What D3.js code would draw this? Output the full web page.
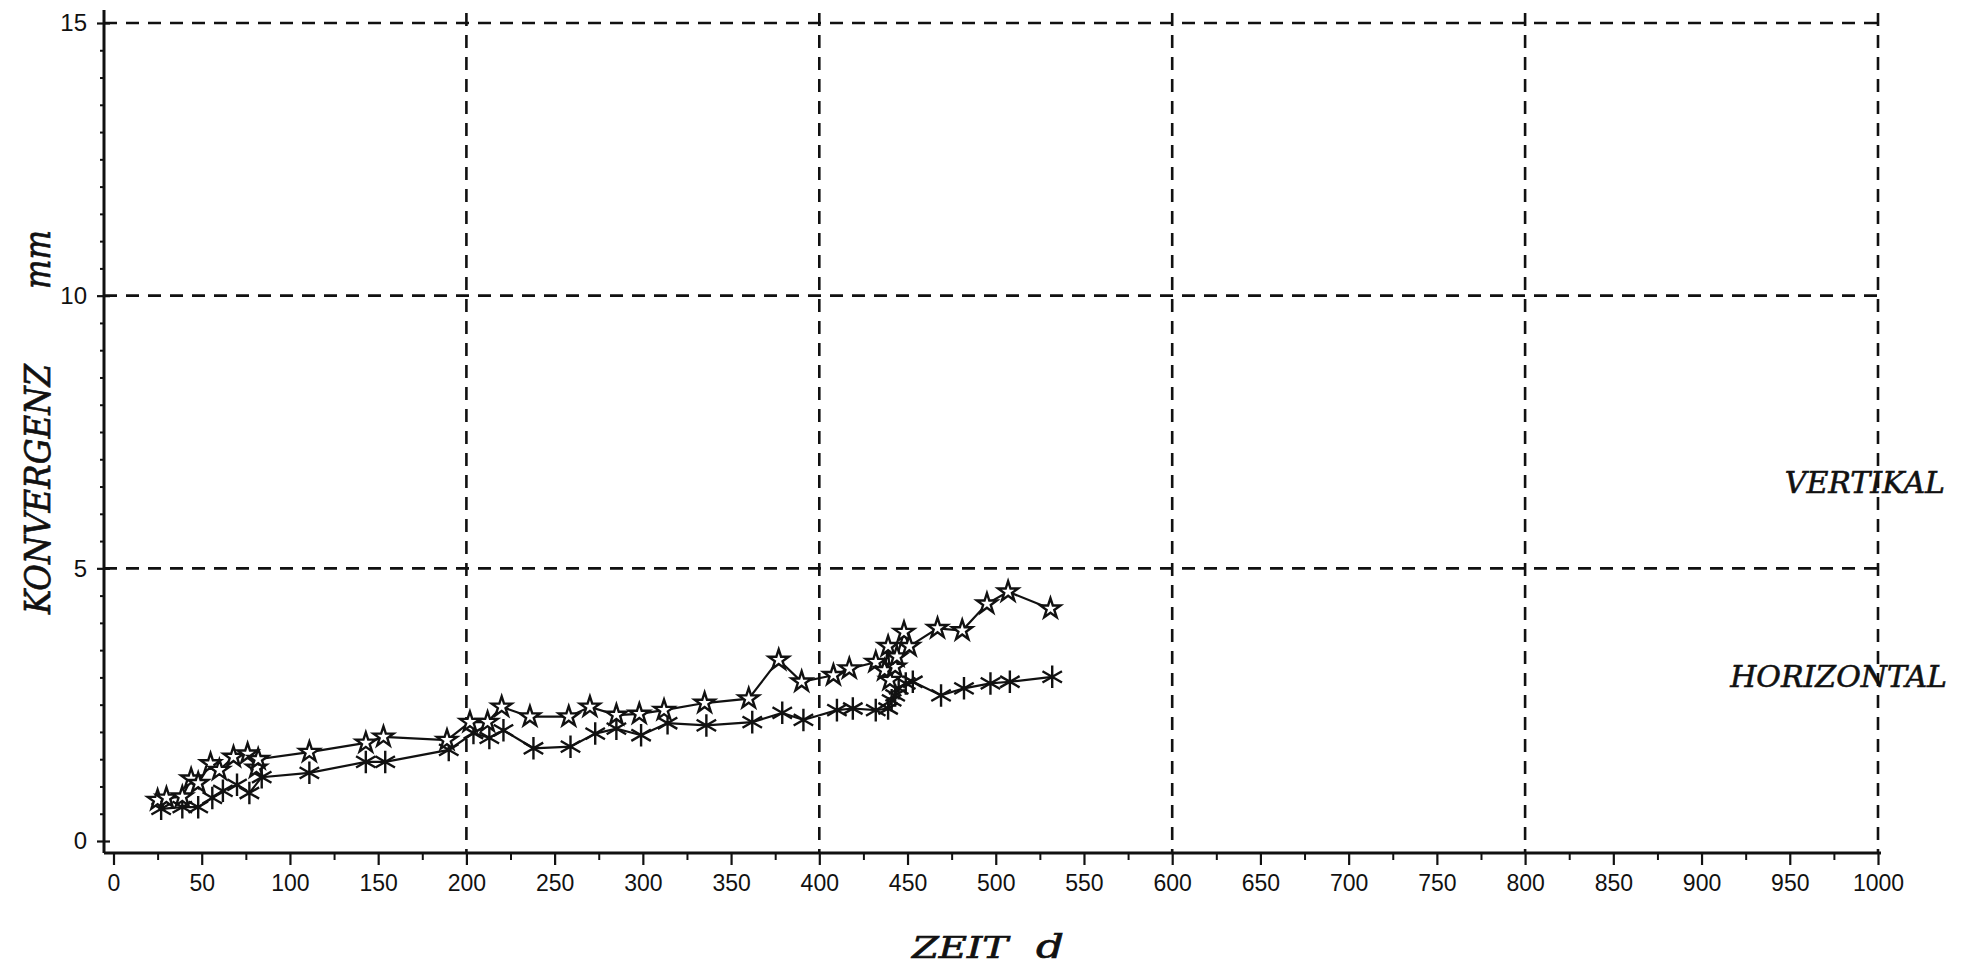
<!DOCTYPE html>
<html>
<head>
<meta charset="utf-8">
<script src="https://cdn.jsdelivr.net/npm/d3@7"></script>
<style>
  html, body { margin: 0; padding: 0; background: #fff; }
  svg { display: block; }
</style>
</head>
<body>
<svg id="chart" width="1969" height="968"></svg>
<script>
// ---------------- DATA ----------------
const xTickValues = [0,50,100,150,200,250,300,350,400,450,500,550,600,650,700,750,800,850,900,950,1000];
const yTickValues = [0,5,10,15];
const xGridValues = [200,400,600,800,1000];
const yGridValues = [5,10,15];

// VERTIKAL (stars)
const vertDays = [25,30,39,44,48,55,60,68,76,81,82,111,143,153,189,202,212,220,236,258,270,285,298,312,335,360,377,390,408,417,432,437,439,440,443,444,448,451,467,481,495,507,531];
const vertVals = [0.75,0.79,0.81,1.14,1.06,1.42,1.30,1.54,1.60,1.34,1.50,1.63,1.80,1.91,1.85,2.18,2.18,2.46,2.28,2.28,2.46,2.31,2.33,2.40,2.53,2.61,3.32,2.92,3.04,3.16,3.28,3.13,3.57,2.95,3.19,3.38,3.83,3.57,3.90,3.86,4.35,4.57,4.26];

// HORIZONTAL (asterisks)
const horizDays = [27,39,48,56,62,70,77,84,111,143,154,190,204,213,221,238,259,273,285,299,314,336,362,379,391,410,419,432,439,441,443,445,449,453,469,482,497,508,532];
const horizVals = [0.59,0.62,0.62,0.79,0.92,1.03,0.88,1.17,1.25,1.45,1.45,1.67,1.98,1.89,2.03,1.70,1.73,1.97,2.06,1.94,2.16,2.12,2.18,2.35,2.22,2.40,2.43,2.40,2.43,2.58,2.67,2.80,2.89,2.92,2.67,2.80,2.89,2.92,3.01];

const seriesLabels = ["VERTIKAL","HORIZONTAL"];
const xTitle = ["ZEIT","d"];
const yTitle = ["KONVERGENZ","mm"];

// ---------------- CHART ----------------
const svg = d3.select("#chart");
const x = d3.scaleLinear().domain([0,1000]).range([113.5,1878]);
const y = d3.scaleLinear().domain([0,15]).range([841,23]);

const axisX0 = 104;   // position of vertical axis line
const axisY0 = 853;   // position of horizontal axis line
const ink = "#111";

// grid
const grid = svg.append("g").attr("stroke", ink).attr("stroke-width", 2.6)
  .attr("stroke-dasharray", "13,9").attr("fill","none");
grid.selectAll("line.h").data(yGridValues).join("line").attr("class","h")
  .attr("x1", axisX0).attr("x2", x(1000))
  .attr("y1", d => y(d)).attr("y2", d => y(d));
grid.selectAll("line.v").data(xGridValues).join("line").attr("class","v")
  .attr("x1", d => x(d)).attr("x2", d => x(d))
  .attr("y1", y(15) - 10).attr("y2", axisY0);

// axis lines
svg.append("line").attr("x1", axisX0).attr("x2", axisX0).attr("y1", 10).attr("y2", axisY0)
  .attr("stroke", ink).attr("stroke-width", 3);
svg.append("line").attr("x1", axisX0).attr("x2", x(1000) + 3).attr("y1", axisY0).attr("y2", axisY0)
  .attr("stroke", ink).attr("stroke-width", 3);

// x axis major ticks with labels
const xAxis = d3.axisBottom(x).tickValues(xTickValues).tickSize(12).tickPadding(10)
  .tickFormat(d3.format("d"));
const gx = svg.append("g").attr("transform", `translate(0,${axisY0})`).call(xAxis);
gx.select(".domain").remove();
gx.selectAll(".tick line").attr("stroke", ink).attr("stroke-width", 2.2);
gx.selectAll(".tick text").attr("fill", ink)
  .style("font-family", "'Liberation Sans', Arial, sans-serif").style("font-size", "23px");

// x axis minor ticks
const xMinor = d3.range(25, 1000, 50);
const gxm = svg.append("g").attr("transform", `translate(0,${axisY0})`)
  .call(d3.axisBottom(x).tickValues(xMinor).tickSize(7).tickFormat(""));
gxm.select(".domain").remove();
gxm.selectAll(".tick line").attr("stroke", ink).attr("stroke-width", 2);

// y axis major ticks (crossing)
const yAxis = d3.axisLeft(y).tickValues(yTickValues).tickSize(7).tickPadding(10)
  .tickFormat(d3.format("d"));
const gy = svg.append("g").attr("transform", `translate(${axisX0},0)`).call(yAxis);
gy.select(".domain").remove();
gy.selectAll(".tick line").attr("x1", 6).attr("stroke", ink).attr("stroke-width", 2.2);
gy.selectAll(".tick text").attr("fill", ink)
  .style("font-family", "'Liberation Sans', Arial, sans-serif").style("font-size", "24px");

// y axis minor ticks
const yMinor = d3.range(0.5, 15, 0.5).filter(v => v % 5 !== 0);
const gym = svg.append("g").attr("transform", `translate(${axisX0},0)`)
  .call(d3.axisLeft(y).tickValues(yMinor).tickSize(4).tickFormat(""));
gym.select(".domain").remove();
gym.selectAll(".tick line").attr("stroke", ink).attr("stroke-width", 2);

// series data
const vert = vertDays.map((d,i) => ({day:d, val:vertVals[i]}));
const horiz = horizDays.map((d,i) => ({day:d, val:horizVals[i]}));
const line = d3.line().x(d => x(d.day)).y(d => y(d.val));

svg.append("path").datum(horiz).attr("d", line).attr("fill","none")
  .attr("stroke", ink).attr("stroke-width", 2.2);
svg.append("path").datum(vert).attr("d", line).attr("fill","none")
  .attr("stroke", ink).attr("stroke-width", 2.2);

// asterisk symbol type (vertical + two 30° strokes)
const asteriskType = {
  draw(ctx, size) {
    const r = Math.sqrt(size) * 0.62;
    const t = r / 2, u = t * Math.sqrt(3);
    ctx.moveTo(0, r); ctx.lineTo(0, -r);
    ctx.moveTo(-u, -t); ctx.lineTo(u, t);
    ctx.moveTo(-u, t); ctx.lineTo(u, -t);
  }
};
svg.append("g").selectAll("path").data(horiz).join("path")
  .attr("transform", d => `translate(${x(d.day)},${y(d.val)})`)
  .attr("d", d3.symbol().type(asteriskType).size(330))
  .attr("fill","none").attr("stroke", ink).attr("stroke-width", 2.4);

svg.append("g").selectAll("path").data(vert).join("path")
  .attr("transform", d => `translate(${x(d.day)},${y(d.val)})`)
  .attr("d", d3.symbol().type(d3.symbolStar).size(125))
  .attr("fill","#fff").attr("stroke", ink).attr("stroke-width", 2.4).attr("stroke-linejoin","miter");

// titles
const serif = "'DejaVu Serif', 'Liberation Serif', serif";
const yt = svg.append("g").attr("transform", "translate(50,0) rotate(-90)")
  .style("font-family", serif).style("font-style","italic").attr("fill", ink)
  .attr("stroke", ink).attr("stroke-width", 0.7);
yt.append("text").attr("x", -614).attr("y", 0).style("font-size","36px")
  .attr("textLength", 250).attr("lengthAdjust","spacingAndGlyphs").text(yTitle[0]);
yt.append("text").attr("x", -289).attr("y", 0).style("font-size","38px")
  .attr("textLength", 59).attr("lengthAdjust","spacingAndGlyphs").text(yTitle[1]);

const xt = svg.append("g").style("font-family", serif).style("font-style","italic")
  .attr("fill", ink).attr("stroke", ink).attr("stroke-width", 0.7);
xt.append("text").attr("x", 912).attr("y", 958).style("font-size","30px")
  .attr("textLength", 96).attr("lengthAdjust","spacingAndGlyphs").text(xTitle[0]);
xt.append("text").attr("x", 1036).attr("y", 958).style("font-size","34px")
  .attr("textLength", 28).attr("lengthAdjust","spacingAndGlyphs").text(xTitle[1]);

const lt = svg.append("g").style("font-family", serif).style("font-style","italic")
  .style("font-size","30px").attr("fill", ink).attr("stroke", ink).attr("stroke-width", 0.6)
  .attr("text-anchor","end");
lt.append("text").attr("x", 1945).attr("y", 493).text(seriesLabels[0]);
lt.append("text").attr("x", 1947).attr("y", 687).text(seriesLabels[1]);
</script>
</body>
</html>
